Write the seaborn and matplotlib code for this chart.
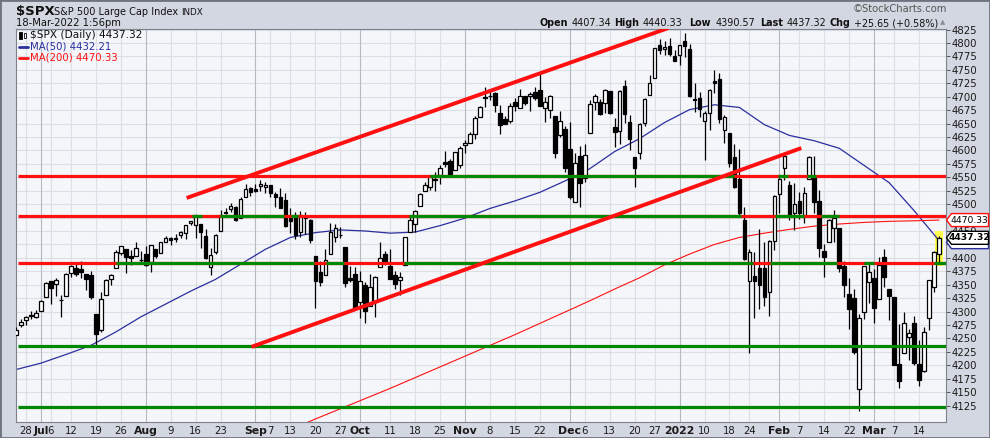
import numpy as np
import pandas as pd
import matplotlib
matplotlib.use("Agg")
import matplotlib.pyplot as plt
import matplotlib.transforms as mtransforms
from matplotlib.patches import Polygon, Rectangle
import seaborn as sns

# ---- data -------------------------------------------------------------
holidays = ["2021-07-05", "2021-09-06", "2021-11-25", "2021-12-24",
            "2022-01-17", "2022-02-21"]
days = pd.bdate_range("2021-06-24", "2022-03-18")
days = days[~days.isin(pd.to_datetime(holidays))]

# daily candles $SPX, Jun 24 2021 .. Mar 18 2022
opens = [
    4256.97, 4274.45, 4284.90, 4293.21, 4290.65,
    4300.73, 4326.60, 4356.46, 4351.01, 4321.07, 4329.38, 4372.41, 4381.07, 4380.11, 4369.02, 4367.43,
    4296.40, 4265.11, 4331.13, 4361.27, 4381.20, 4409.58, 4416.38, 4402.95, 4403.59, 4395.12,
    4406.86, 4392.74, 4415.95, 4408.86, 4429.07, 4437.77, 4435.79, 4442.18, 4446.08, 4464.84, 4461.65,
    4462.12, 4440.94, 4382.44, 4410.56, 4450.29, 4484.40, 4490.45, 4493.75, 4474.10, 4513.76, 4529.75,
    4528.80, 4534.48, 4532.42, 4535.38, 4518.09, 4513.02, 4506.92, 4474.81, 4479.33, 4447.49, 4477.09,
    4469.74, 4402.95, 4374.45, 4367.43, 4406.75, 4438.04, 4442.12, 4419.54, 4362.41, 4370.67,
    4317.16, 4348.84, 4309.87, 4319.57, 4383.73, 4406.51, 4385.44, 4368.31, 4358.01, 4386.75, 4447.69,
    4463.72, 4497.34, 4524.42, 4532.24, 4546.12, 4553.69, 4578.69, 4580.22, 4562.84, 4572.87,
    4610.62, 4613.34, 4630.65, 4662.93, 4699.26, 4701.48, 4707.25, 4670.26, 4659.39, 4655.24, 4689.30,
    4679.42, 4701.50, 4700.72, 4708.44, 4712.00, 4678.48, 4675.78, 4664.63, 4628.75, 4640.25,
    4602.82, 4504.73, 4589.49, 4548.37, 4631.97, 4690.86, 4691.00, 4687.64, 4710.30, 4642.99, 4636.46,
    4719.13, 4652.50, 4587.90, 4594.96, 4650.36, 4703.96, 4733.99, 4795.49, 4788.64, 4794.23, 4775.21,
    4778.14, 4804.51, 4787.99, 4693.39, 4697.66, 4655.34, 4669.14, 4728.59, 4733.56, 4637.99, 4632.24,
    4588.03, 4547.35, 4471.38, 4356.32, 4366.64, 4380.58, 4380.58, 4336.19, 4431.79,
    4519.57, 4566.39, 4535.41, 4482.79, 4505.75, 4480.02, 4547.00, 4553.24, 4506.27, 4412.61, 4429.28,
    4455.75, 4456.06, 4384.57, 4332.74, 4324.93, 4155.77, 4298.38, 4354.17,
    4363.14, 4322.56, 4401.31, 4342.12, 4327.01, 4202.66, 4223.10, 4252.55, 4279.50, 4202.75, 4188.82,
    4288.14, 4345.11, 4407.34]
highs = [
    4271.28, 4286.12, 4292.14, 4300.52, 4302.43,
    4320.66, 4355.43, 4356.46, 4361.88, 4330.88, 4371.60, 4386.68, 4392.37, 4393.68, 4369.02, 4375.09,
    4296.40, 4336.84, 4359.70, 4369.87, 4415.18, 4422.73, 4416.38, 4415.47, 4429.97, 4412.25,
    4422.18, 4423.79, 4416.17, 4429.76, 4440.82, 4439.39, 4445.21, 4449.44, 4461.77, 4468.37, 4480.26,
    4462.12, 4454.32, 4418.61, 4444.35, 4489.88, 4492.81, 4501.71, 4495.90, 4513.33, 4537.36, 4531.39,
    4537.11, 4545.85, 4541.45, 4535.38, 4521.79, 4529.90, 4520.47, 4492.99, 4485.68, 4486.87, 4485.87,
    4471.52, 4402.95, 4394.87, 4416.75, 4465.40, 4463.12, 4457.30, 4419.54, 4385.57, 4382.55,
    4375.19, 4355.51, 4369.23, 4365.57, 4429.97, 4412.02, 4415.88, 4374.89, 4372.87, 4439.73, 4475.82,
    4488.75, 4520.40, 4540.87, 4551.44, 4559.67, 4572.62, 4598.53, 4584.57, 4597.55, 4608.08,
    4620.34, 4635.15, 4663.46, 4683.00, 4718.50, 4714.92, 4708.53, 4684.85, 4664.55, 4688.47, 4697.42,
    4714.95, 4701.50, 4708.80, 4717.75, 4743.83, 4699.39, 4702.87, 4664.63, 4672.95, 4646.02,
    4652.94, 4595.46, 4608.03, 4612.60, 4694.04, 4705.06, 4695.26, 4713.57, 4710.30, 4660.47, 4712.60,
    4731.99, 4666.70, 4587.90, 4651.14, 4697.67, 4740.74, 4791.49, 4807.02, 4804.06, 4808.93, 4786.83,
    4796.64, 4818.62, 4797.70, 4725.01, 4707.95, 4673.02, 4714.13, 4748.83, 4744.13, 4665.13, 4632.24,
    4611.55, 4602.11, 4494.52, 4417.35, 4411.01, 4453.23, 4428.74, 4432.72, 4516.89,
    4550.49, 4595.31, 4542.88, 4539.66, 4521.86, 4531.32, 4590.03, 4588.92, 4526.33, 4426.22, 4472.77,
    4489.55, 4456.06, 4394.60, 4362.12, 4341.51, 4294.73, 4385.34, 4388.84,
    4378.45, 4401.48, 4416.78, 4342.12, 4327.01, 4276.94, 4299.40, 4268.28, 4291.01, 4247.57, 4271.05,
    4357.86, 4412.67, 4440.33]
lows = [
    4256.97, 4271.16, 4274.67, 4287.04, 4287.96,
    4300.73, 4326.60, 4314.37, 4329.79, 4289.37, 4329.38, 4364.03, 4366.92, 4362.36, 4340.70, 4322.53,
    4233.13, 4262.05, 4331.13, 4350.06, 4381.20, 4405.45, 4372.51, 4387.01, 4403.59, 4389.65,
    4384.81, 4373.00, 4400.23, 4408.86, 4429.07, 4424.74, 4430.03, 4436.42, 4435.96, 4460.82, 4437.66,
    4417.83, 4397.59, 4367.73, 4406.80, 4450.29, 4482.28, 4485.66, 4468.99, 4474.10, 4513.76, 4515.80,
    4522.02, 4524.66, 4521.30, 4513.00, 4493.95, 4492.07, 4457.66, 4445.70, 4435.46, 4438.37, 4443.80,
    4427.76, 4305.91, 4347.96, 4367.43, 4406.75, 4430.27, 4436.19, 4346.33, 4355.08, 4306.24,
    4288.52, 4278.94, 4309.87, 4290.49, 4383.73, 4386.22, 4360.59, 4342.09, 4329.92, 4386.75, 4447.69,
    4447.47, 4496.41, 4524.40, 4526.89, 4524.00, 4537.36, 4569.17, 4551.66, 4562.84, 4567.59,
    4595.06, 4613.34, 4621.19, 4662.59, 4681.32, 4694.39, 4670.87, 4630.86, 4648.31, 4650.77, 4672.86,
    4679.42, 4684.41, 4672.78, 4694.22, 4682.17, 4652.66, 4659.89, 4585.43, 4625.26, 4560.00,
    4510.27, 4504.73, 4495.12, 4540.51, 4631.97, 4674.52, 4665.98, 4670.24, 4667.60, 4606.52, 4611.22,
    4651.89, 4600.22, 4531.10, 4583.16, 4645.53, 4703.96, 4733.99, 4780.04, 4778.08, 4775.33, 4765.75,
    4758.17, 4774.27, 4699.44, 4671.26, 4662.74, 4582.24, 4638.27, 4706.71, 4650.29, 4614.75, 4568.70,
    4530.20, 4477.95, 4395.34, 4222.62, 4287.11, 4304.80, 4309.50, 4292.46, 4414.02,
    4483.53, 4544.32, 4470.39, 4451.50, 4471.47, 4465.40, 4547.00, 4484.31, 4401.41, 4364.84, 4429.28,
    4429.68, 4373.81, 4327.22, 4267.11, 4221.51, 4114.65, 4286.83, 4315.12,
    4279.54, 4322.56, 4345.56, 4284.98, 4199.85, 4157.87, 4223.10, 4209.80, 4200.49, 4161.72, 4187.90,
    4265.12, 4335.65, 4390.57]
closes = [
    4266.49, 4280.70, 4290.61, 4291.80, 4297.50,
    4319.94, 4352.34, 4343.54, 4358.13, 4320.82, 4369.55, 4384.63, 4369.21, 4374.30, 4360.03, 4327.16,
    4258.49, 4323.06, 4358.69, 4367.48, 4411.79, 4422.30, 4401.46, 4400.64, 4419.15, 4395.26,
    4387.16, 4423.15, 4402.66, 4429.10, 4436.52, 4432.35, 4436.75, 4447.70, 4460.83, 4468.00, 4479.71,
    4448.08, 4400.27, 4405.80, 4441.67, 4479.53, 4486.23, 4496.19, 4470.00, 4509.37, 4528.79, 4522.68,
    4524.09, 4536.95, 4535.43, 4520.03, 4514.07, 4493.28, 4458.58, 4468.73, 4443.05, 4480.70, 4473.75,
    4432.99, 4357.73, 4354.19, 4395.64, 4448.98, 4455.48, 4443.11, 4352.63, 4359.46, 4307.54,
    4357.04, 4300.46, 4345.72, 4363.55, 4399.76, 4391.34, 4361.19, 4350.65, 4363.80, 4438.26, 4471.37,
    4486.46, 4519.63, 4536.19, 4549.78, 4544.90, 4566.48, 4574.79, 4551.68, 4596.42, 4605.38,
    4613.67, 4630.65, 4660.57, 4680.06, 4697.53, 4701.70, 4685.25, 4646.71, 4649.27, 4682.85, 4682.80,
    4700.90, 4688.67, 4704.54, 4697.96, 4682.94, 4690.70, 4701.46, 4594.62, 4655.27, 4567.00,
    4513.04, 4577.10, 4538.43, 4591.67, 4686.75, 4701.21, 4667.45, 4712.02, 4668.97, 4634.09, 4709.85,
    4668.67, 4620.64, 4568.02, 4649.23, 4696.56, 4725.79, 4791.19, 4786.35, 4793.06, 4778.73, 4766.18,
    4796.56, 4793.54, 4700.58, 4696.05, 4677.03, 4670.29, 4713.07, 4726.35, 4659.03, 4662.85, 4577.11,
    4532.76, 4482.73, 4397.94, 4410.13, 4356.45, 4349.93, 4326.51, 4431.85, 4515.55,
    4546.54, 4589.38, 4477.44, 4500.53, 4483.87, 4521.54, 4587.18, 4504.08, 4418.64, 4401.67, 4471.07,
    4475.01, 4380.26, 4348.87, 4304.76, 4225.50, 4288.70, 4384.65, 4373.94,
    4306.26, 4386.54, 4363.49, 4328.87, 4201.09, 4170.70, 4277.88, 4259.52, 4204.31, 4173.11, 4262.45,
    4357.86, 4411.67, 4437.32]

# moving averages (every 5th session)
ma50_idx = list(range(0, 186, 5))
ma50 = [4192, 4204, 4220, 4237, 4262, 4290, 4314, 4338, 4360, 4388,
        4416, 4438, 4447, 4452, 4450, 4446, 4448, 4460, 4474, 4492,
        4506, 4522, 4543, 4566, 4598, 4622, 4652, 4676, 4685, 4680,
        4648, 4628, 4618, 4604, 4572, 4540, 4488, 4432.21]
ma200_idx = list(range(55, 186, 5))
ma200 = [4080, 4100, 4119, 4138, 4157, 4177, 4197, 4217, 4237, 4257,
         4278, 4299, 4320, 4342, 4363, 4387, 4407, 4425, 4438, 4446,
         4453, 4459, 4463, 4466, 4468, 4469, 4470.33]

# hand drawn annotation lines (session index, price)
up_channel = ([34.2, 130.8], [4511.5, 4828.0])
low_channel = ([47.2, 157.4], [4234.3, 4604.4])
red_levels = [4552, 4477, 4390]
green_parts = {
    4552: [(83, 144), (152.8, 154.8), (158.6, 160.4)],
    4477: [(35.2, 37.2), (40.8, 53.8), (55.2, 56.6), (78.8, 145.4), (152.2, 158), (161.4, 165)],
    4390: [(20, 59.8), (62.2, 65.8), (77.8, 147.8), (151.2, 164.6), (170, 172), (184, 186.5)],
}
green_levels = [4235, 4122]

tick_dates = ["2021-06-28", "2021-07-01", "2021-07-06", "2021-07-12", "2021-07-19", "2021-07-26",
              "2021-08-02", "2021-08-09", "2021-08-16", "2021-08-23", "2021-09-01", "2021-09-07",
              "2021-09-13", "2021-09-20", "2021-09-27", "2021-10-01", "2021-10-11", "2021-10-18",
              "2021-10-25", "2021-11-01", "2021-11-08", "2021-11-15", "2021-11-22", "2021-12-01",
              "2021-12-06", "2021-12-13", "2021-12-20", "2021-12-27", "2022-01-03", "2022-01-10",
              "2022-01-18", "2022-01-24", "2022-02-01", "2022-02-07", "2022-02-14", "2022-02-22",
              "2022-03-01", "2022-03-07", "2022-03-14"]
tick_text = ["28", "Jul", "6", "12", "19", "26", "Aug", "9", "16", "23", "Sep", "7", "13", "20",
             "27", "Oct", "11", "18", "25", "Nov", "8", "15", "22", "Dec", "6", "13", "20", "27",
             "2022", "10", "18", "24", "Feb", "7", "14", "22", "Mar", "7", "14"]
month_ticks = {"Jul", "Aug", "Sep", "Oct", "Nov", "Dec", "2022", "Feb", "Mar"}

# price levels whose labels sit under the price tags
hidden_levels = {4475, 4425}

# ---- style ------------------------------------------------------------
sns.set_style("white")
plt.rcParams["font.family"] = ["DejaVu Sans"]

BG = "#d3d7e1"
PLOT_BG = "#f5f6fa"
GRID = "#dcdfe6"
GRID_MONTH = "#b5b9c3"
RED = "#ff1010"
GREEN = "#008800"
NAVY = "#2b2f9e"

W, H = 990, 438
def fx(p):
    return p / W
def fy(p):
    return 1 - p / H

fig = plt.figure(figsize=(9.9, 4.38), dpi=100, facecolor=BG)
L, R, T, B = 16, 946, 28.5, 422
ax = fig.add_axes([fx(L), fy(B), (R - L) / W, (B - T) / H])
ax.set_facecolor(PLOT_BG)

o = np.array(opens); h = np.array(highs); l = np.array(lows); c = np.array(closes)
x = np.arange(len(days))
pos = {d: i for i, d in enumerate(days)}

ax.set_xlim(0.4, 186.4)
ax.set_ylim(4094.4, 4827.0)
ppx = (4827.0 - 4094.4) / (B - T)   # price units per pixel

# grid
levels = list(range(4125, 4826, 25))
for y in levels:
    ax.axhline(y, color=GRID, lw=0.8, zorder=0)
tick_pos = [pos[pd.Timestamp(d)] for d in tick_dates]
for p, t in zip(tick_pos, tick_text):
    ax.axvline(p, color=GRID_MONTH if t in month_ticks else GRID, lw=0.8, zorder=0)

# last bar highlight
ax.add_patch(Rectangle((x[-1] - 0.85, l[-1] - 6), 1.7, h[-1] - l[-1] + 16,
                       facecolor="#ffff50", edgecolor="none", zorder=1))

# moving averages
sns.lineplot(x=ma50_idx, y=ma50, ax=ax, color=NAVY, lw=0.9, zorder=2)
sns.lineplot(x=ma200_idx, y=ma200, ax=ax, color=RED, lw=0.8, zorder=2)

# candles
up = c >= o
ax.vlines(x, l, h, color="black", lw=0.9, zorder=3)
ax.bar(x[up], c[up] - o[up], bottom=o[up], width=0.72, facecolor="white",
       edgecolor="black", linewidth=0.9, zorder=4)
ax.bar(x[~up], o[~up] - c[~up], bottom=c[~up], width=0.72, facecolor="black",
       edgecolor="black", linewidth=0.9, zorder=4)

# annotation lines
for lev in red_levels:
    ax.hlines(lev, 0.4, 186.4, color=RED, lw=2.3, zorder=5)
    for a, b in green_parts[lev]:
        ax.hlines(lev, a, b, color=GREEN, lw=2.3, zorder=5.1)
for lev in green_levels:
    ax.hlines(lev, 0.4, 186.4, color=GREEN, lw=2.3, zorder=5)
for xs, ys in (up_channel, low_channel):
    ax.plot(xs, ys, color=RED, lw=2.8, solid_capstyle="butt", zorder=5.2)

# axes / ticks
ax.yaxis.tick_right()
ax.set_yticks(levels)
ax.set_yticklabels(["" if v in hidden_levels else str(v) for v in levels])
ax.tick_params(axis="y", labelsize=7.3, length=3, width=0.7, color="#555555",
               labelcolor="#1a1a1a", pad=1)
ax.set_xticks(tick_pos)
ax.set_xticklabels(tick_text)
ax.tick_params(axis="x", labelsize=7.3, length=0, pad=3, labelcolor="#1a1a1a")
for lbl, t in zip(ax.get_xticklabels(), tick_text):
    if t in month_ticks:
        lbl.set_fontweight("bold")
        lbl.set_fontsize(7.8)
ax.set_xticks(x, minor=True)
ax.tick_params(axis="x", which="minor", length=2, width=0.6, color="#777777", direction="in")
for s in ax.spines.values():
    s.set_color("#7d828c")
    s.set_linewidth(0.8)
ax.set_xlabel("")
ax.set_ylabel("")

# price tags on the right axis
blend = mtransforms.blended_transform_factory(fig.transFigure, ax.transData)
def tag(val, text, ec, bold=False, size=6.6, z=6):
    dy = 6.5 * ppx
    xs = [946.5, 951.5, 988.5, 988.5, 951.5]
    ys = [val, val + dy, val + dy, val - dy, val - dy]
    fig.add_artist(Polygon(list(zip([fx(v) for v in xs], ys)), closed=True,
                           transform=blend, facecolor="white", edgecolor=ec,
                           lw=1.0, zorder=z))
    if text:
        fig.text(fx(969.5), val, text, transform=blend, va="center", ha="center",
                 fontsize=size, fontweight="bold" if bold else "normal",
                 color="black", zorder=z + 0.1)

tag(ma200[-1], f"{ma200[-1]:.2f}", RED)
tag(ma50[-1] - 3, "", NAVY, z=6.5)
tag(c[-1], f"{c[-1]:.2f}", "black", bold=True, size=6.6, z=7)

# header
fig.text(fx(16), fy(12), "$SPX", fontsize=9.5, fontweight="bold", va="center", color="#111111")
fig.text(fx(54), fy(12), "S&P 500 Large Cap Index", fontsize=7.0, va="center", color="#111111")
fig.text(fx(181), fy(12.5), "INDX", fontsize=6.3, va="center", color="#111111")
fig.text(fx(16), fy(23), "18-Mar-2022 1:56pm", fontsize=7.2, va="center", color="#111111")
fig.text(fx(947), fy(9), "\u00a9StockCharts.com", fontsize=7.2, va="center", ha="right", color="#555555")

chg = c[-1] - c[-2]
header = [(540, "Open", True), (572, f"{o[-1]:.2f}", False),
          (614, "High", True), (643, f"{h[-1]:.2f}", False),
          (689, "Low", True), (716, f"{l[-1]:.2f}", False),
          (760, "Last", True), (787, f"{c[-1]:.2f}", False),
          (830, "Chg", True), (854, f"+{chg:.2f} (+{chg / c[-2] * 100:.2f}%)", False)]
for px, s, bold in header:
    fig.text(fx(px), fy(23), s, fontsize=6.9, va="center",
             fontweight="bold" if bold else "normal", color="#111111")
fig.text(fx(943), fy(22.5), "\u25b2", fontsize=5.0, va="center", ha="center", color="#8a8f99")

# legend inside the plot
fig.add_artist(Rectangle((fx(19), fy(39)), fx(2.5), 7 / H, facecolor="black", edgecolor="black", lw=0.6))
fig.add_artist(Rectangle((fx(23.5), fy(38)), fx(2.5), 5 / H, facecolor="white", edgecolor="black", lw=0.6))
fig.text(fx(30), fy(35.5), f"$SPX (Daily) {c[-1]:.2f}", fontsize=7.6, va="center", color="#111111")
fig.add_artist(plt.Line2D([fx(19), fx(28)], [fy(46.5), fy(46.5)], color=NAVY, lw=2))
fig.text(fx(29.5), fy(46.5), f"MA(50) {ma50[-1]:.2f}", fontsize=7.3, va="center", color=NAVY)
fig.add_artist(plt.Line2D([fx(19), fx(28)], [fy(57.5), fy(57.5)], color=RED, lw=2))
fig.text(fx(29.5), fy(57.5), f"MA(200) {ma200[-1]:.2f}", fontsize=7.3, va="center", color=RED)

# outer frame
fig.add_artist(Rectangle((0, 0), 1, 1, transform=fig.transFigure, fill=False,
                         edgecolor="#6e737d", lw=2))

fig.savefig("out.png", dpi=100, facecolor=BG)
